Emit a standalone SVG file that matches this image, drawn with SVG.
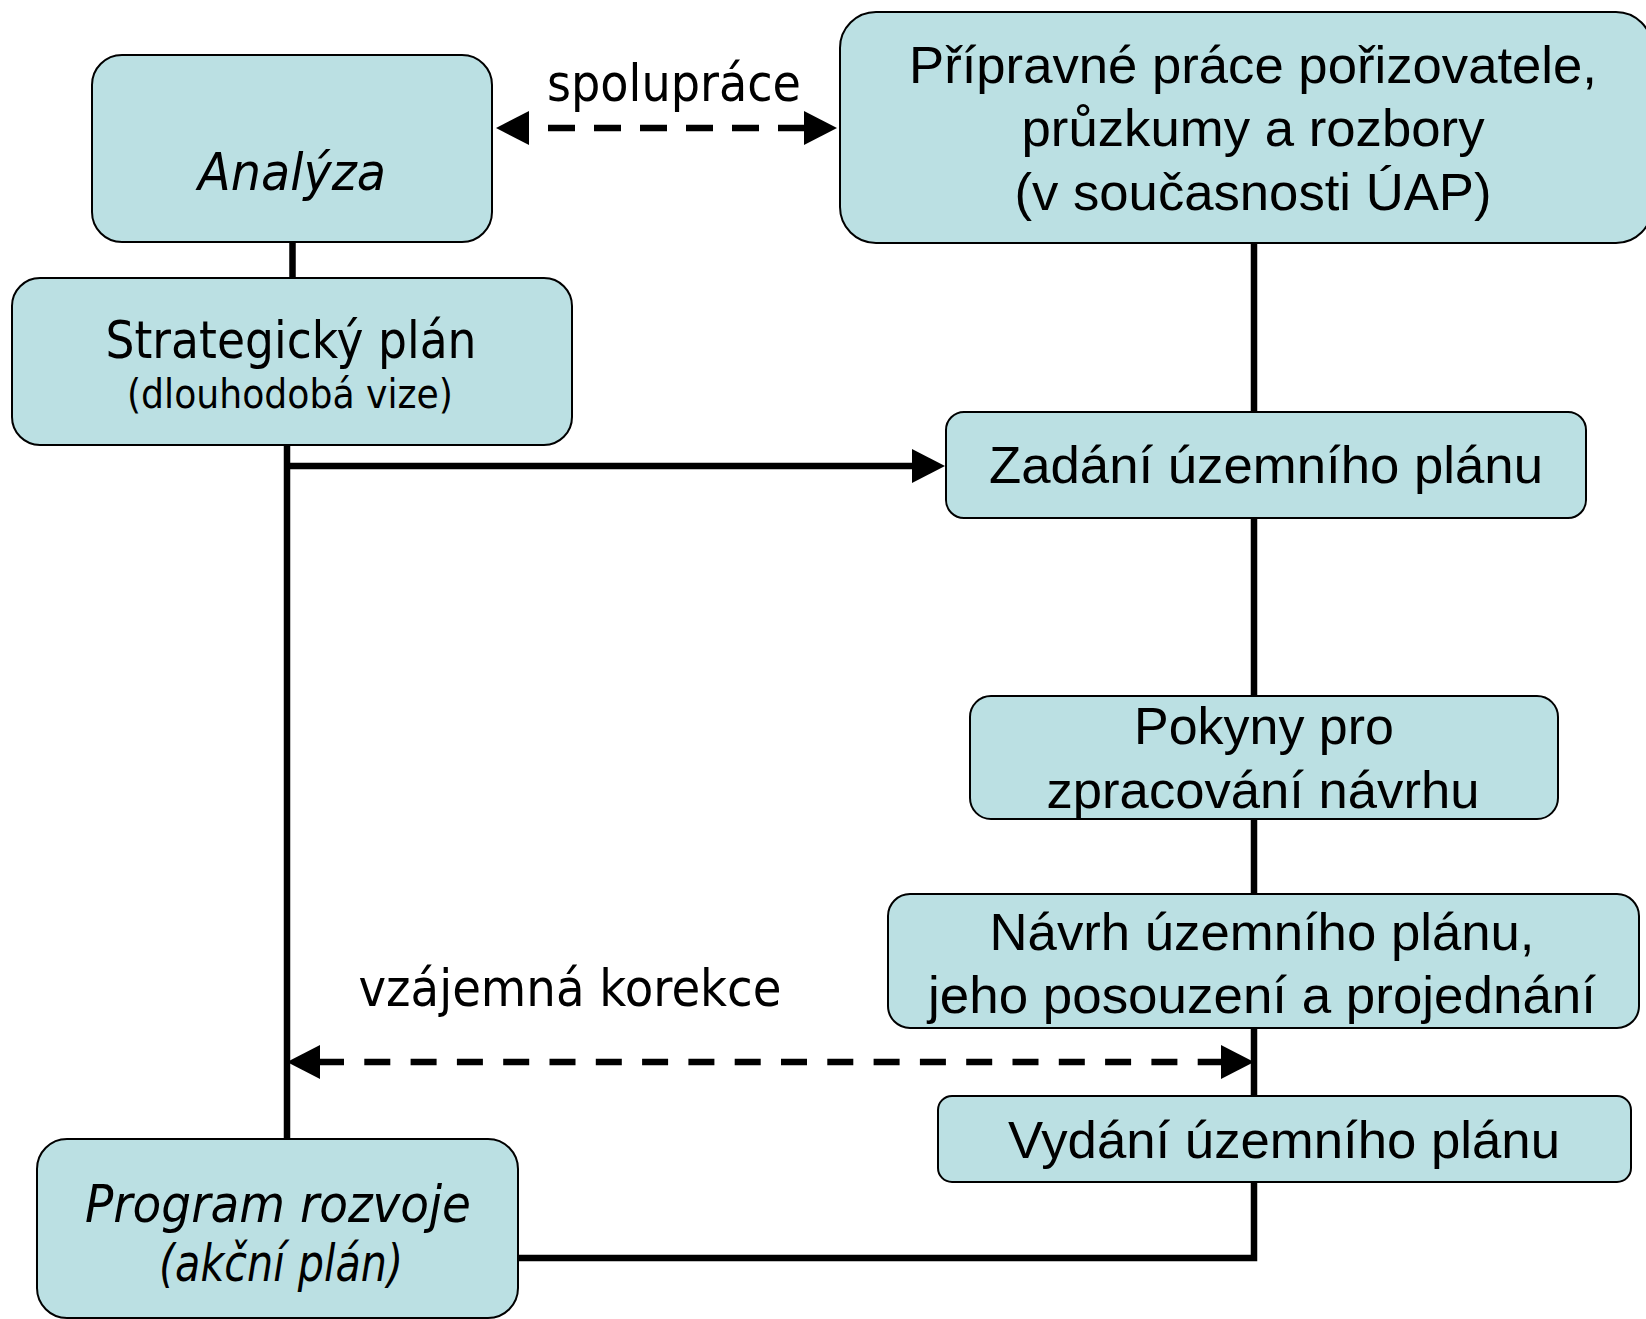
<svg xmlns="http://www.w3.org/2000/svg" width="1646" height="1319" viewBox="0 0 1646 1319">
<style>
.box{fill:#BBE0E3;stroke:#000;stroke-width:2}
.l{font-family:"DejaVu Sans","Liberation Sans",sans-serif;font-size:52px;fill:#000;text-anchor:middle}
.i{font-style:italic}
.r{font-family:"Liberation Sans",Arial,sans-serif;font-size:52px;fill:#000;text-anchor:middle}
.ln{fill:none;stroke:#000;stroke-width:6.5;stroke-linecap:butt}
.dash1{stroke-dasharray:27 19;stroke-dashoffset:27}
.dash2{stroke-dasharray:26 20.3;stroke-dashoffset:2}
</style>
<defs>
<marker id="ah" markerUnits="userSpaceOnUse" markerWidth="34" markerHeight="34" refX="0" refY="17" orient="auto-start-reverse" viewBox="0 0 34 34">
<path d="M0,0 L33,17 L0,34 Z" fill="#000"/>
</marker>
</defs>
<rect width="1646" height="1319" fill="#fff"/>
<g id="connectors">
<line class="ln" x1="292.5" y1="242" x2="292.5" y2="278"/>
<line class="ln dash1" x1="529" y1="128" x2="804" y2="128" marker-start="url(#ah)" marker-end="url(#ah)"/>
<line class="ln" x1="287" y1="445" x2="287" y2="1139"/>
<line class="ln" x1="284" y1="466" x2="912" y2="466" marker-end="url(#ah)"/>
<line class="ln" x1="1254" y1="244" x2="1254" y2="412"/>
<line class="ln" x1="1254" y1="518" x2="1254" y2="696"/>
<line class="ln" x1="1254" y1="819" x2="1254" y2="894"/>
<line class="ln" x1="1254" y1="1028" x2="1254" y2="1096"/>
<polyline class="ln" points="1254,1182 1254,1258 518,1258"/>
<line class="ln dash2" x1="320" y1="1062" x2="1221" y2="1062" marker-start="url(#ah)" marker-end="url(#ah)"/>
<text class="l" x="674" y="101" textLength="254" lengthAdjust="spacingAndGlyphs">spolupráce</text>
<text class="l" x="570" y="1006" textLength="423" lengthAdjust="spacingAndGlyphs">vzájemná korekce</text>
</g>
<g id="analyza">
<rect class="box" x="92" y="55" width="400" height="187" rx="30" ry="30"/>
<text class="l i" x="292" y="190" textLength="188" lengthAdjust="spacingAndGlyphs">Analýza</text>
</g>
<g id="strategicky">
<rect class="box" x="12" y="278" width="560" height="167" rx="28" ry="28"/>
<text class="l" x="291" y="358" textLength="371" lengthAdjust="spacingAndGlyphs">Strategický plán</text>
<text class="l" x="290" y="408" style="font-size:41px" textLength="326" lengthAdjust="spacingAndGlyphs">(dlouhodobá vize)</text>
</g>
<g id="pripravne">
<rect class="box" x="840" y="12" width="812" height="231" rx="36" ry="36"/>
<text class="r" x="1253" y="83" textLength="688" lengthAdjust="spacingAndGlyphs">Přípravné práce pořizovatele,</text>
<text class="r" x="1253" y="146" textLength="463" lengthAdjust="spacingAndGlyphs">průzkumy a rozbory</text>
<text class="r" x="1253" y="210" textLength="477" lengthAdjust="spacingAndGlyphs">(v současnosti ÚAP)</text>
</g>
<g id="zadani">
<rect class="box" x="946" y="412" width="640" height="106" rx="18" ry="18"/>
<text class="r" x="1266" y="483" textLength="554" lengthAdjust="spacingAndGlyphs">Zadání územního plánu</text>
</g>
<g id="pokyny">
<rect class="box" x="970" y="696" width="588" height="123" rx="21" ry="21"/>
<text class="r" x="1264" y="744" textLength="260" lengthAdjust="spacingAndGlyphs">Pokyny pro</text>
<text class="r" x="1263" y="808" textLength="433" lengthAdjust="spacingAndGlyphs">zpracování návrhu</text>
</g>
<g id="navrh">
<rect class="box" x="888" y="894" width="751" height="134" rx="22" ry="22"/>
<text class="r" x="1262" y="950" textLength="545" lengthAdjust="spacingAndGlyphs">Návrh územního plánu,</text>
<text class="r" x="1262" y="1013" textLength="668" lengthAdjust="spacingAndGlyphs">jeho posouzení a projednání</text>
</g>
<g id="vydani">
<rect class="box" x="938" y="1096" width="693" height="86" rx="14" ry="14"/>
<text class="r" x="1284" y="1158" textLength="552" lengthAdjust="spacingAndGlyphs">Vydání územního plánu</text>
</g>
<g id="program">
<rect class="box" x="37" y="1139" width="481" height="179" rx="30" ry="30"/>
<text class="l i" x="278" y="1222" textLength="386" lengthAdjust="spacingAndGlyphs">Program rozvoje</text>
<text class="l i" x="281" y="1281" textLength="244" lengthAdjust="spacingAndGlyphs">(akční plán)</text>
</g>
</svg>
